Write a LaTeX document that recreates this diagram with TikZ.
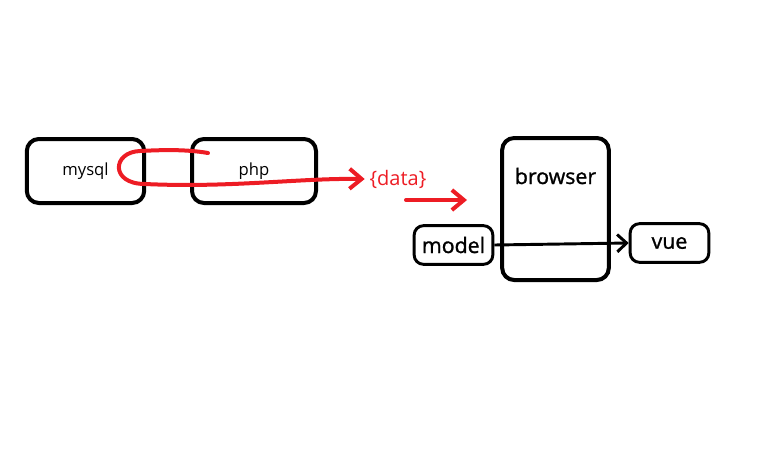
\documentclass[tikz,border=0pt]{standalone}
\usepackage{fontspec}
\setmainfont{Open Sans}
\newfontfamily\heavyfont[FakeBold=1.2]{Open Sans}
\usetikzlibrary{arrows.meta}
\definecolor{paintred}{RGB}{237,28,36}

\tikzset{every picture/.style={line width=0.75pt}}
\tikzset{box/.style={draw, line width=3pt, rounded corners=9pt, inner sep=0pt},
  smallbox/.style={draw, line width=2.2pt, rounded corners=7pt, inner sep=0pt},
  redline/.style={draw=paintred, line width=3pt, line cap=round, -{Straight Barb[length=9pt,width=15pt,line width=3pt]}}}

\begin{document}
\begin{tikzpicture}[x=0.75pt,y=0.75pt,yscale=-1,xscale=1]
\path[use as bounding box] (0,0) rectangle (776,458);

% Boxes
\node[box, minimum width=88pt, minimum height=48pt] (mysql) at (85.5,171) {\fontsize{12.5pt}{15pt}\selectfont mysql};
\node[box, minimum width=93pt, minimum height=48pt] (php) at (254,171) {\fontsize{12.5pt}{15pt}\selectfont php};
\node[box, minimum width=80pt, minimum height=106.5pt,
  label={[anchor=center, yshift=-30pt, font=\heavyfont\fontsize{16pt}{19pt}\selectfont]north:browser}] (browser) at (555.5,209) {};
\node[smallbox, minimum width=59pt, minimum height=29pt, font=\heavyfont\fontsize{16pt}{19pt}\selectfont] (model) at (453.5,245) {model};
\node[smallbox, minimum width=59pt, minimum height=29pt, font=\heavyfont\fontsize{16pt}{19pt}\selectfont] (vue) at (669.5,243) {vue};

% Text Node
\node[text=paintred, font=\fontsize{15pt}{18pt}\selectfont] (data) at (398,179) {\{data\}};

\coordinate (start) at (208,153);
\coordinate (from) at (406,200);
\coordinate (to) at (467,200);

% Connection
\draw[redline] (start) .. controls (185,149) and (160,150) .. (140,151)
  .. controls (112,152) and (110,184) .. (145,184)
  .. controls (230,188) and (300,178) .. (data.west);
\draw[redline] (from) -- (to);
\draw[line width=2.2pt, -{Straight Barb[length=7pt,width=13pt,line width=2.2pt]}] (model.east) -- (vue.west);

\end{tikzpicture}
\end{document}
